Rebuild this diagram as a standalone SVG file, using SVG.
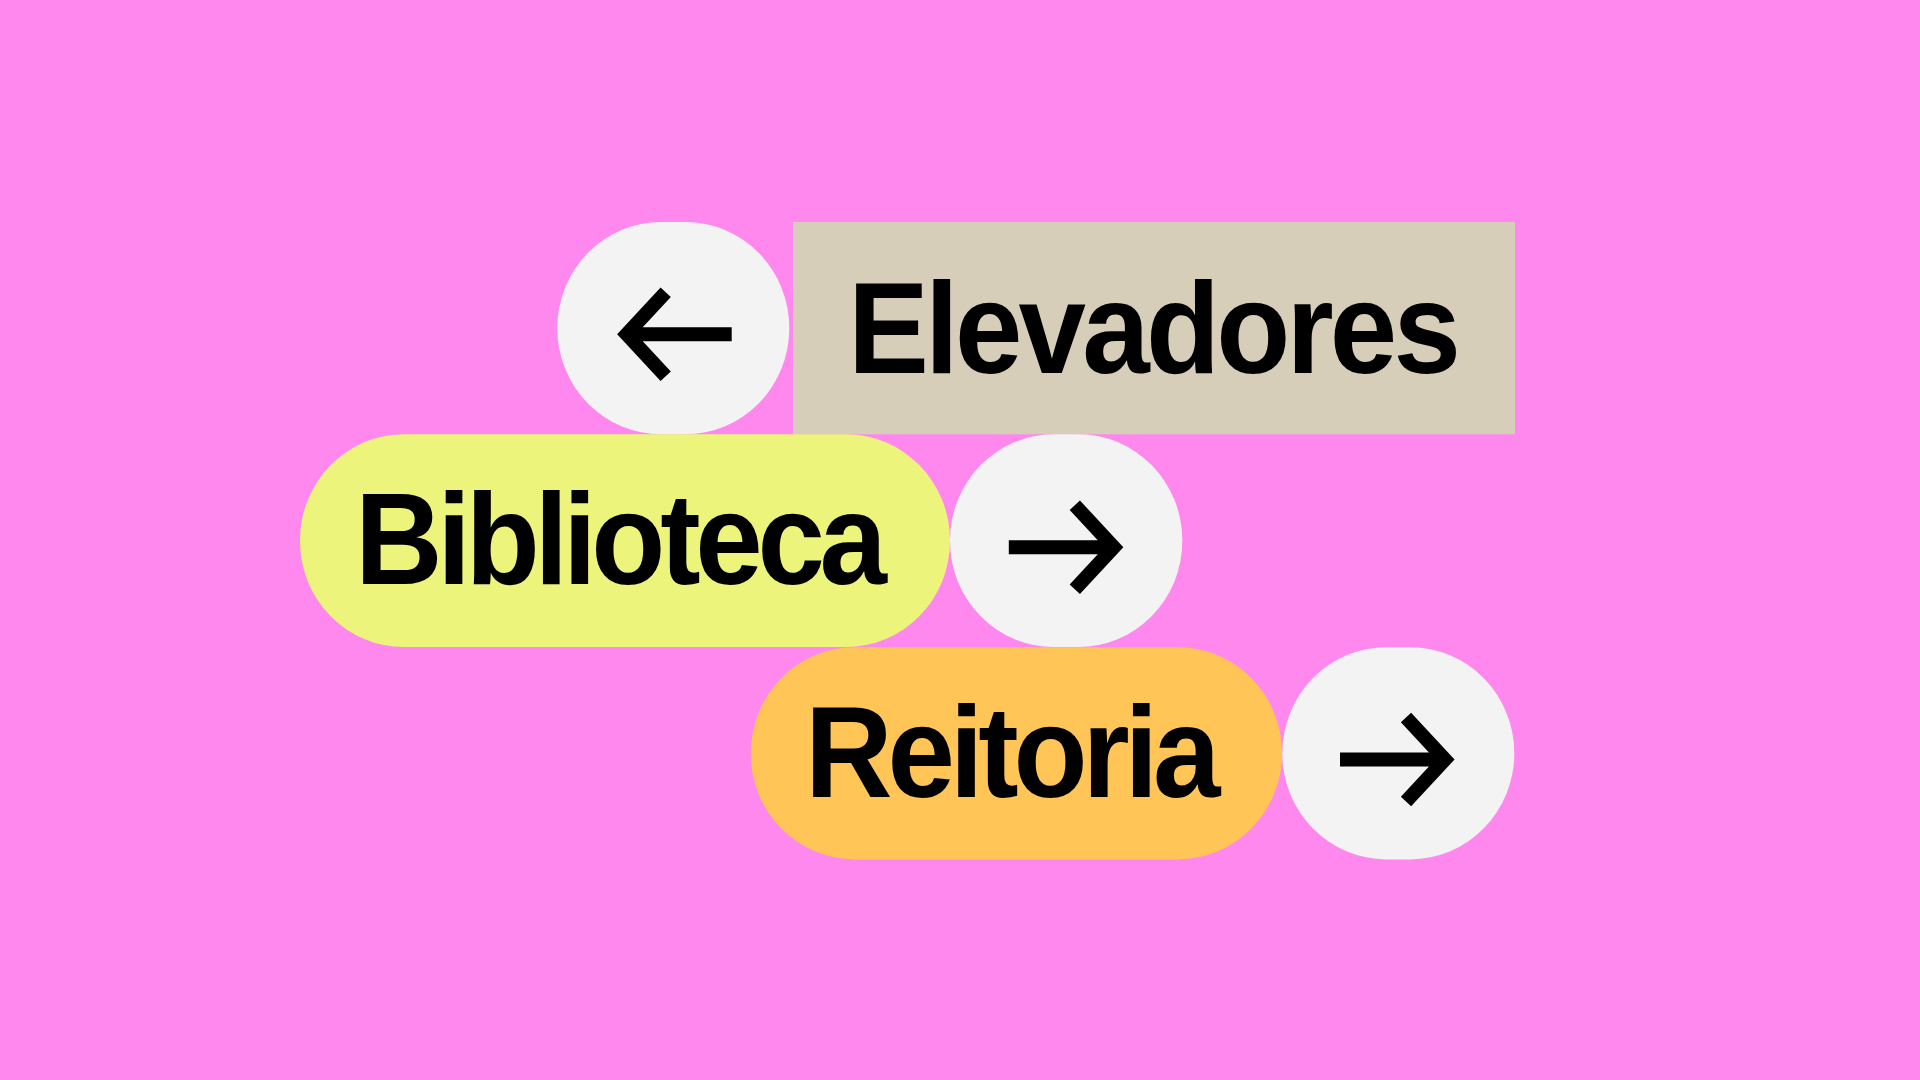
<svg xmlns="http://www.w3.org/2000/svg" xmlns:xlink="http://www.w3.org/1999/xlink" width="1920" height="1080" viewBox="0 0 1920 1080">
  <style>
    .label { font-family: "Liberation Sans", Arial, sans-serif; font-weight: 700; font-size: 129px; fill: #000000; }
    .btn { fill: #F3F3F3; }
    .arrow { fill: none; stroke: #000000; stroke-width: 14; stroke-linejoin: miter; stroke-linecap: butt; stroke-miterlimit: 10; }
  </style>
  <defs>
    <g id="arrow-right">
      <path class="arrow" d="M -57.5 0 H 47.5 M 8.5 -42 L 47.5 0 L 8.5 42"/>
    </g>
  </defs>
  <rect x="0" y="0" width="1920" height="1080" fill="#FF88EE"/>

  <g id="node-back">
    <rect class="btn" x="557.3" y="222" width="232" height="212.3" rx="104" ry="106"/>
    <use xlink:href="#arrow-right" href="#arrow-right" transform="translate(674.2 334.3) scale(-1 1)"/>
  </g>

  <g id="node-elevadores">
    <rect x="793" y="222" width="722" height="212.3" fill="#D7CEB9"/>
    <text class="label" transform="translate(848 372.5) scale(0.94 1)" textLength="652" lengthAdjust="spacing">Elevadores</text>
  </g>

  <g id="node-biblioteca">
    <rect x="300" y="434.3" width="650" height="212.8" rx="104" ry="106" fill="#EDF47B"/>
    <text class="label" transform="translate(355 584) scale(0.94 1)" textLength="566" lengthAdjust="spacing">Biblioteca</text>
  </g>

  <g id="node-go-biblioteca">
    <rect class="btn" x="950" y="434.3" width="232.3" height="212.8" rx="104" ry="106"/>
    <use xlink:href="#arrow-right" href="#arrow-right" transform="translate(1066.3 547.2)"/>
  </g>

  <g id="node-reitoria">
    <rect x="750.7" y="647.2" width="531.3" height="212.2" rx="104" ry="106" fill="#FFC556"/>
    <text class="label" transform="translate(805 797) scale(0.94 1)" textLength="442" lengthAdjust="spacing">Reitoria</text>
  </g>

  <g id="node-go-reitoria">
    <rect class="btn" x="1282.3" y="647.2" width="232" height="212.2" rx="104" ry="106"/>
    <use xlink:href="#arrow-right" href="#arrow-right" transform="translate(1397.5 759.5)"/>
  </g>
</svg>
